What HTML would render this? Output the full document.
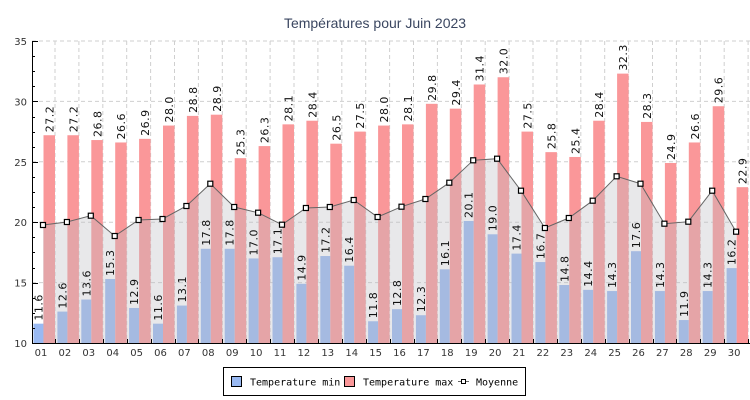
<!DOCTYPE html>
<html><head><meta charset="utf-8"><style>
html,body{margin:0;padding:0;background:#fff;}
svg{display:block;}
</style></head><body>
<svg id="c" width="750" height="400" xmlns="http://www.w3.org/2000/svg"></svg>
<script>
var mn=[11.6,12.6,13.6,15.3,12.9,11.6,13.1,17.8,17.8,17.0,17.1,14.9,17.2,16.4,11.8,12.8,12.3,16.1,20.1,19.0,17.4,16.7,14.8,14.4,14.3,17.6,14.3,11.9,14.3,16.2];
var mx=[27.2,27.2,26.8,26.6,26.9,28.0,28.8,28.9,25.3,26.3,28.1,28.4,26.5,27.5,28.0,28.1,29.8,29.4,31.4,32.0,27.5,25.8,25.4,28.4,32.3,28.3,24.9,26.6,29.6,22.9];
var my=[225,222,215.7,236,220,219,206,183.7,207,212.7,224.7,208,207,200,217,206.7,199,182.7,160.3,158.7,190.7,228,218,200.7,176.3,183.7,223.7,221.7,190.7,231.7];
function Y(v){return 343-(v-10)*12.08;}
var W=23.9,X0=33,s='';
for(var v=15;v<=35;v+=5){s+='<line x1="32" x2="750" y1="'+Y(v)+'" y2="'+Y(v)+'" stroke="#cfcfcf" stroke-dasharray="4,3"/>';}
for(var i=0;i<30;i++){var gx=X0+i*W+22;s+='<line x1="'+gx+'" x2="'+gx+'" y1="41" y2="343" stroke="#cfcfcf" stroke-dasharray="4,3"/>';}
for(i=0;i<30;i++){var st=X0+i*W;
s+='<rect x="'+(st+0.5)+'" y="'+Y(mn[i])+'" width="10" height="'+(343-Y(mn[i]))+'" fill="#99b9f2"/>';
s+='<rect x="'+(st+10.5)+'" y="'+Y(mx[i])+'" width="11.5" height="'+(343-Y(mx[i]))+'" fill="#fa9799"/>';}
var pts=[];for(i=0;i<30;i++)pts.push((X0+i*W+10)+','+my[i]);
s+='<polygon points="'+(X0+10)+',343 '+pts.join(' ')+' '+(X0+29*W+10)+',343" fill="rgba(188,188,194,0.35)"/>';
s+='<polyline points="'+pts.join(' ')+'" fill="none" stroke="#666" stroke-width="1"/>';
for(i=0;i<30;i++){s+='<rect x="'+(X0+i*W+10-2.5)+'" y="'+(my[i]-2.5)+'" width="5" height="5" fill="#fff" stroke="#000" stroke-width="1.2"/>';}
function lab(x,y,t){return '<text transform="translate('+x+','+(y-3)+') rotate(-90)" font-family="DejaVu Sans,Liberation Sans,sans-serif" font-size="11" fill="#111" letter-spacing="0.5">'+t+'</text>';}
for(i=0;i<30;i++){var st=X0+i*W;
s+=lab(st+9.5,Y(mn[i]),mn[i].toFixed(1));
s+=lab(st+20.5,Y(mx[i]),mx[i].toFixed(1));}
s+='<line x1="32.5" x2="32.5" y1="41" y2="343.5" stroke="#000"/>';
s+='<line x1="32" x2="750" y1="343.5" y2="343.5" stroke="#000"/>';
for(v=10;v<=35;v+=1.25){var yy=Math.round(Y(v))+0.5;s+='<line x1="32" x2="'+(v%5==0?38:35)+'" y1="'+yy+'" y2="'+yy+'" stroke="#000"/>';}
for(v=10;v<=35;v+=5){s+='<text x="27" y="'+(Y(v)+4)+'" text-anchor="end" font-family="DejaVu Sans,Liberation Sans,sans-serif" font-size="10" fill="#333">'+v+'</text>';}
for(i=0;i<30;i++){var st=X0+i*W;var gx=Math.round(st+22)+0.5;
s+='<line x1="'+gx+'" x2="'+gx+'" y1="339" y2="343" stroke="#000"/>';
s+='<text x="'+(st+8)+'" y="356" text-anchor="middle" font-family="DejaVu Sans,Liberation Sans,sans-serif" font-size="10" fill="#333">'+(i<9?'0':'')+(i+1)+'</text>';}
s+='<text x="375" y="28" text-anchor="middle" font-family="Liberation Sans,DejaVu Sans,sans-serif" font-size="14" fill="#3a4660">Températures pour Juin 2023</text>';
s+='<rect x="223.5" y="367.5" width="302" height="28" fill="#fff" stroke="#000"/>';
s+='<rect x="231.5" y="376.5" width="10" height="10" fill="#99b9f2" stroke="#000"/>';
s+='<text x="250" y="385.5" font-family="DejaVu Sans Mono,Liberation Mono,monospace" font-size="10" fill="#000">Temperature min</text>';
s+='<rect x="344.5" y="376.5" width="10" height="10" fill="#fa9799" stroke="#000"/>';
s+='<text x="363" y="385.5" font-family="DejaVu Sans Mono,Liberation Mono,monospace" font-size="10" fill="#000">Temperature max</text>';
s+='<line x1="458" x2="469" y1="381.5" y2="381.5" stroke="#666"/><rect x="461.5" y="379.5" width="4" height="4" fill="#fff" stroke="#000"/>';
s+='<text x="476" y="385.5" font-family="DejaVu Sans Mono,Liberation Mono,monospace" font-size="10" fill="#000">Moyenne</text>';
document.getElementById('c').innerHTML=s;
</script>
</body></html>
